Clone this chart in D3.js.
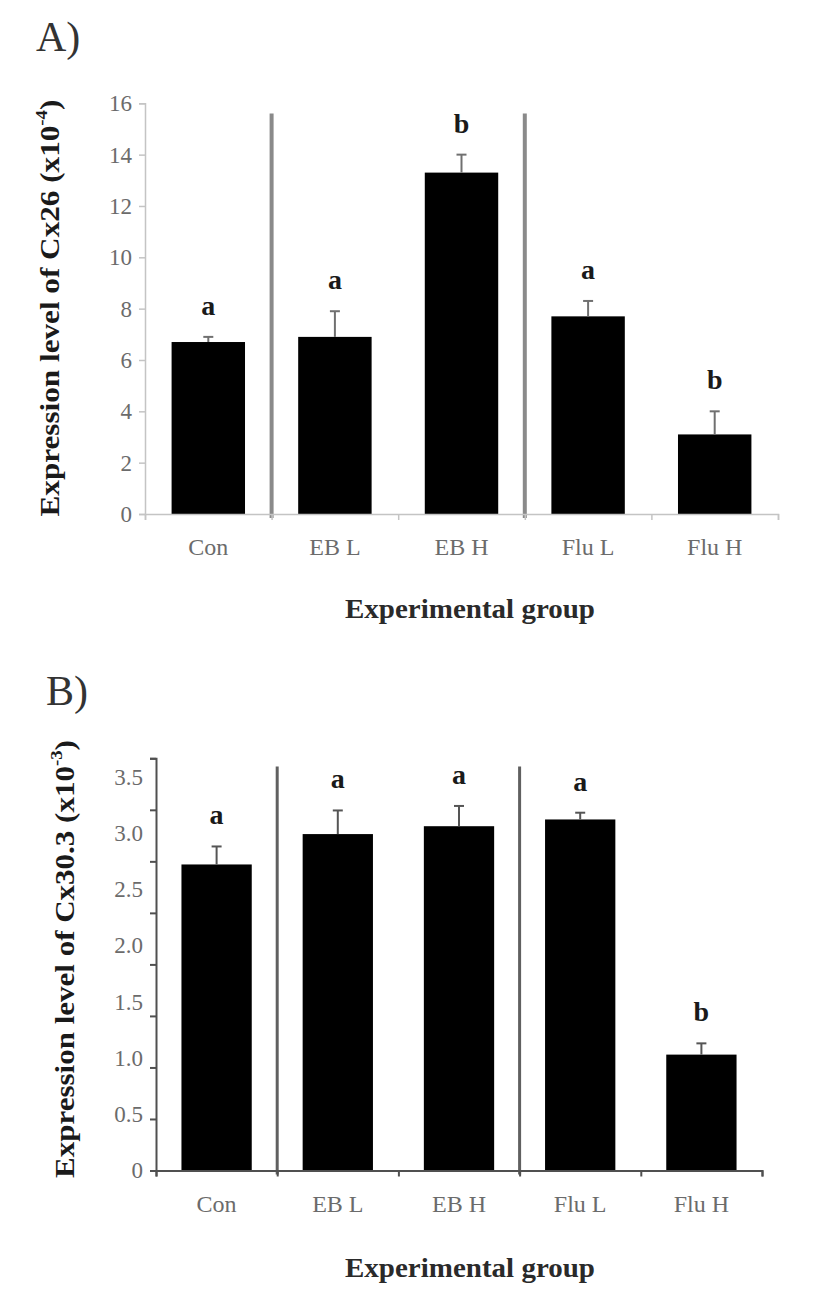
<!DOCTYPE html>
<html><head><meta charset="utf-8">
<script src="https://cdn.jsdelivr.net/npm/d3@7"></script>
<style>
body{margin:0;background:#fff}
svg{display:block}
text{font-family:"Liberation Serif","Times New Roman",serif}
</style>
</head><body>
<svg id="chart" width="827" height="1306"></svg>
<script>
// ---- data ----
const categories = ["Con", "EB L", "EB H", "Flu L", "Flu H"];

const cx26Values  = [6.7, 6.9, 13.3, 7.7, 3.1];
const cx26Errors  = [0.2, 1.0, 0.7, 0.6, 0.9];
const cx26Letters = ["a", "a", "b", "a", "b"];
const cx26TickLabels = [0, 2, 4, 6, 8, 10, 12, 14, 16];
const cx26TickMarks  = [0, 2, 4, 6, 8, 10, 12, 14, 16];

const cx303Values  = [2.72, 2.99, 3.06, 3.12, 1.03];
const cx303Errors  = [0.16, 0.21, 0.18, 0.06, 0.10];
const cx303Letters = ["a", "a", "a", "a", "b"];
const cx303TickLabels = [0, 0.5, 1.0, 1.5, 2.0, 2.5, 3.0, 3.5];
const cx303TickMarks  = [0, 0.5, 1.0, 1.5, 2.0, 2.5, 3.0, 3.5, 4.0];

const svg = d3.select("#chart");
svg.append("rect").attr("width", 827).attr("height", 1306).attr("fill", "#fff");

function drawPanel(o) {
  const g = svg.append("g");
  const x = d3.scaleBand().domain(categories).range([o.x0, o.x1])
    .paddingInner(0.42).paddingOuter(0.21);
  const xSlots = d3.scaleLinear().domain([0, categories.length]).range([o.x0, o.x1]);
  const y = d3.scaleLinear().domain([0, d3.max(o.tickLabels)]).range([o.yBase, o.yLabelTop]);
  const yMarks = d3.scaleLinear().domain([0, d3.max(o.tickMarks)]).range([o.yBase, o.yMarkTop]);

  // panel letter
  g.append("text").attr("x", o.tagX).attr("y", o.tagY)
    .attr("font-size", 42).attr("fill", "#333").text(o.tag);

  // separators
  [1, 3].forEach(i => {
    g.append("line")
      .attr("x1", xSlots(i)).attr("x2", xSlots(i))
      .attr("y1", yMarks(o.sepTop)).attr("y2", o.yBase + 4)
      .attr("stroke", o.sepColor).attr("stroke-width", o.sepWidth);
  });

  // bars
  g.selectAll("rect.bar").data(o.values).join("rect").attr("class", "bar")
    .attr("x", (d, i) => x(categories[i]))
    .attr("width", x.bandwidth())
    .attr("y", d => y(d))
    .attr("height", d => o.yBase - y(d))
    .attr("fill", "#000");

  // error bars (upper only)
  const capW = 10;
  o.values.forEach((v, i) => {
    const cx = x(categories[i]) + x.bandwidth() / 2;
    const top = y(v + o.errors[i]);
    g.append("line").attr("x1", cx).attr("x2", cx).attr("y1", y(v)).attr("y2", top)
      .attr("stroke", o.errColor).attr("stroke-width", 2);
    g.append("line").attr("x1", cx - capW / 2).attr("x2", cx + capW / 2).attr("y1", top).attr("y2", top)
      .attr("stroke", o.errColor).attr("stroke-width", 2);
    g.append("text").attr("x", cx).attr("y", top - 22)
      .attr("text-anchor", "middle").attr("font-weight", "bold").attr("font-size", 28)
      .attr("fill", "#1a1a1a").text(o.letters[i]);
  });

  // y axis: marks
  const ya = g.append("g").attr("transform", `translate(${o.x0},0)`)
    .call(d3.axisLeft(yMarks).tickValues(o.tickMarks).tickSize(6).tickSizeOuter(6).tickFormat(""));
  ya.selectAll("path,line").attr("stroke", o.axisColor).attr("stroke-width", o.axisWidth);

  // y axis: labels
  const yl = g.append("g").attr("transform", `translate(${o.x0},0)`)
    .call(d3.axisLeft(y).tickValues(o.tickLabels).tickSize(0).tickPadding(o.yLabelPad)
      .tickFormat(d => d === 0 ? "0" : o.fmt(d)));
  yl.select(".domain").remove();
  yl.selectAll("text").attr("font-size", 23).attr("fill", "#6b6b6b")
    .attr("font-family", "'Liberation Serif','Times New Roman',serif");

  // x axis: marks
  const xa = g.append("g").attr("transform", `translate(0,${o.yBase})`)
    .call(d3.axisBottom(xSlots).tickValues(d3.range(categories.length + 1)).tickSize(6).tickSizeOuter(6).tickFormat(""));
  xa.selectAll("path,line").attr("stroke", o.axisColor).attr("stroke-width", o.axisWidth);

  // x axis: labels
  const xl = g.append("g").attr("transform", `translate(0,${o.yBase})`)
    .call(d3.axisBottom(x).tickSize(0).tickPadding(o.xLabelPad));
  xl.select(".domain").remove();
  xl.selectAll("text").attr("font-size", 24).attr("fill", "#6b6b6b")
    .attr("font-family", "'Liberation Serif','Times New Roman',serif");

  // x title
  const xt = g.append("text").attr("text-anchor", "middle")
    .attr("font-weight", "bold").attr("font-size", 28).attr("fill", "#2a2a2a")
    .text("Experimental group");
  const xlen = xt.node().getComputedTextLength();
  xt.attr("transform", `translate(${o.xTitleX},${o.xTitleY}) scale(${o.xTitleLen / xlen},1)`);

  // y title
  const yt = g.append("text").attr("text-anchor", "middle")
    .attr("font-weight", "bold").attr("font-size", 28).attr("fill", "#1a1a1a");
  yt.append("tspan").text(o.yTitle);
  yt.append("tspan").attr("font-size", 17).attr("dy", -12).text(o.yExp);
  yt.append("tspan").attr("font-size", 28).attr("dy", 12).text(")");
  const ylen = yt.node().getComputedTextLength();
  yt.attr("transform", `translate(${o.yTitleX},${o.yTitleY}) rotate(-90) scale(${o.yTitleLen / ylen},1)`);
}

drawPanel({
  tag: "A)", tagX: 36, tagY: 51,
  values: cx26Values, errors: cx26Errors, letters: cx26Letters,
  tickLabels: cx26TickLabels, tickMarks: cx26TickMarks, fmt: d3.format("d"),
  x0: 145, x1: 778, yBase: 514, yLabelTop: 103.3, yMarkTop: 103.3,
  sepTop: 15.6, sepColor: "#8a8a8a", sepWidth: 4,
  errColor: "#707070", axisColor: "#c4c4c4", axisWidth: 1.5,
  yLabelPad: 13, xLabelPad: 24,
  xTitleX: 470, xTitleY: 618, xTitleLen: 250,
  yTitle: "Expression level of Cx26 (x10", yExp: "-4",
  yTitleX: 59, yTitleY: 308, yTitleLen: 417
});

drawPanel({
  tag: "B)", tagX: 46, tagY: 705,
  values: cx303Values, errors: cx303Errors, letters: cx303Letters,
  tickLabels: cx303TickLabels, tickMarks: cx303TickMarks, fmt: d3.format(".1f"),
  x0: 156, x1: 762, yBase: 1170.5, yLabelTop: 776.7, yMarkTop: 758.3,
  sepTop: 3.92, sepColor: "#606060", sepWidth: 3,
  errColor: "#555", axisColor: "#505050", axisWidth: 2,
  yLabelPad: 13, xLabelPad: 24,
  xTitleX: 470, xTitleY: 1277, xTitleLen: 250,
  yTitle: "Expression level of Cx30.3 (x10", yExp: "-3",
  yTitleX: 74, yTitleY: 959, yTitleLen: 438
});
</script>
</body></html>
